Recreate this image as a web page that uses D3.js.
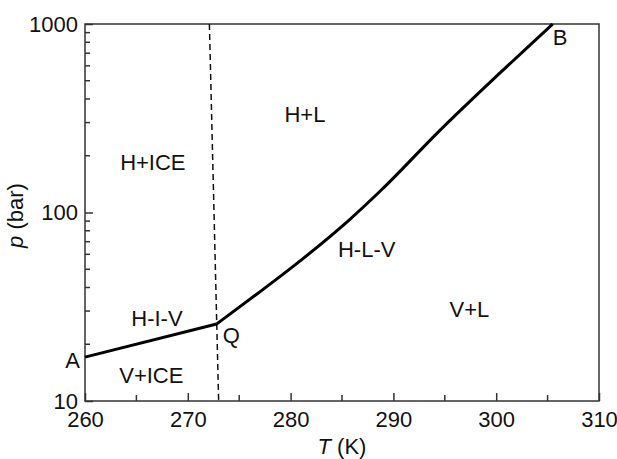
<!DOCTYPE html>
<html>
<head>
<meta charset="utf-8">
<script src="https://cdn.jsdelivr.net/npm/d3@7"></script>
<style>
  body { margin: 0; background: #fff; }
  svg text { font-family: "Liberation Sans", Arial, sans-serif; fill: #111; }
</style>
</head>
<body>
<div id="grafica"></div>
<script>
// Phase diagram: hydrate equilibrium curve (p log scale vs T)

// ---- data ----
const lowT = [260, 272.8]           // A -> Q
const lowP = [17.1, 25.6]
const highT = [272.8, 276.8, 280.9, 285.8, 288.9, 294.5, 300.4, 305.5]   // Q -> B
const highP = [25.6, 37.2, 55.2, 92.3, 132.8, 272, 552, 1000]
const iceT = [272.1, 273.0]         // dashed ice line (top, bottom)
const iceP = [1000, 10]

const xTicks = [260, 270, 280, 290, 300, 310]
const xMinor = [265, 275, 285, 295, 305]
const yTicks = [10, 100, 1000]
const yMinor = [20, 30, 40, 50, 60, 70, 80, 90, 200, 300, 400, 500, 600, 700, 800, 900]

const regionText = ["H+ICE", "H+L", "H-L-V", "V+L", "H-I-V", "V+ICE"]
const regionT = [266.6, 281.4, 287.4, 297.4, 267.0, 266.45]
const regionP = [168, 301, 57.8, 28, 25.1, 12.4]

const pointText = ["A", "Q", "B"]
const pointT = [258.8, 273.4, 305.5]
const pointP = [14.9, 20.4, 774]

// ---- dimensions ----
const anchoTotal = 617
const altoTotal = 459
const margins = { top: 24, right: 18, bottom: 58, left: 85 }
const ancho = anchoTotal - margins.left - margins.right
const alto = altoTotal - margins.top - margins.bottom

const svg = d3.select("#grafica")
  .append("svg")
    .attr("width", anchoTotal)
    .attr("height", altoTotal)
  .append("g")
    .attr("transform", `translate(${margins.left},${margins.top})`)

const x = d3.scaleLinear().domain([260, 310]).range([0, ancho])
const y = d3.scaleLog().domain([10, 1000]).range([alto, 0])

const fontSize = 22

// X axis (ticks inside)
const xAxis = svg.append("g")
  .attr("transform", `translate(0,${alto})`)
  .call(d3.axisBottom(x).tickValues(xTicks).tickSizeInner(-8).tickSizeOuter(0).tickPadding(10).tickFormat(d3.format("d")))
xAxis.select(".domain").remove()
xAxis.selectAll("line").attr("stroke", "#333").attr("stroke-width", 1.5)
xAxis.selectAll("text").attr("font-size", fontSize).style("font-family", "Liberation Sans, Arial, sans-serif")

svg.append("g").selectAll("line")
  .data(xMinor)
  .join("line")
    .attr("x1", d => x(d)).attr("x2", d => x(d))
    .attr("y1", alto).attr("y2", alto - 6)
    .attr("stroke", "#333").attr("stroke-width", 1.5)

// Y axis
const yAxis = svg.append("g")
  .call(d3.axisLeft(y).tickValues(yTicks).tickSizeInner(-8).tickSizeOuter(0).tickPadding(7).tickFormat(d3.format("d")))
yAxis.select(".domain").remove()
yAxis.selectAll("line").attr("stroke", "#333").attr("stroke-width", 1.5)
yAxis.selectAll("text").attr("font-size", fontSize).style("font-family", "Liberation Sans, Arial, sans-serif")

svg.append("g").selectAll("line")
  .data(yMinor)
  .join("line")
    .attr("x1", 0).attr("x2", 5)
    .attr("y1", d => y(d)).attr("y2", d => y(d))
    .attr("stroke", "#333").attr("stroke-width", 1.5)

// frame
svg.append("rect")
  .attr("width", ancho).attr("height", alto)
  .attr("fill", "none").attr("stroke", "#333").attr("stroke-width", 1.5)

// axis titles
const xt = svg.append("text")
  .attr("x", ancho / 2).attr("y", alto + 53)
  .attr("text-anchor", "middle").attr("font-size", fontSize)
xt.append("tspan").attr("font-style", "italic").text("T")
xt.append("tspan").text(" (K)")

const yt = svg.append("text")
  .attr("transform", `translate(${-62},${alto / 2 + 3}) rotate(-90)`)
  .attr("text-anchor", "middle").attr("font-size", fontSize)
yt.append("tspan").attr("font-style", "italic").text("p")
yt.append("tspan").text(" (bar)")

// dashed ice melting line
svg.append("path")
  .datum(d3.zip(iceT, iceP))
  .attr("d", d3.line().x(d => x(d[0])).y(d => y(d[1])))
  .attr("fill", "none").attr("stroke", "#111")
  .attr("stroke-width", 1.5).attr("stroke-dasharray", "6,4")

// equilibrium curves
svg.append("path")
  .datum(d3.zip(lowT, lowP))
  .attr("d", d3.line().x(d => x(d[0])).y(d => y(d[1])))
  .attr("fill", "none").attr("stroke", "#000").attr("stroke-width", 3)

svg.append("path")
  .datum(d3.zip(highT, highP))
  .attr("d", d3.line().curve(d3.curveMonotoneX).x(d => x(d[0])).y(d => y(d[1])))
  .attr("fill", "none").attr("stroke", "#000").attr("stroke-width", 3)
  .attr("stroke-linejoin", "round")

// region labels
svg.append("g").selectAll("text")
  .data(regionText)
  .join("text")
    .attr("x", (d, i) => x(regionT[i]))
    .attr("y", (d, i) => y(regionP[i]))
    .attr("text-anchor", "middle")
    .attr("font-size", fontSize)
    .text(d => d)

// point labels
svg.append("g").selectAll("text")
  .data(pointText)
  .join("text")
    .attr("x", (d, i) => x(pointT[i]))
    .attr("y", (d, i) => y(pointP[i]))
    .attr("text-anchor", (d, i) => i == 0 ? "middle" : "start")
    .attr("font-size", fontSize)
    .text(d => d)
</script>
</body>
</html>
